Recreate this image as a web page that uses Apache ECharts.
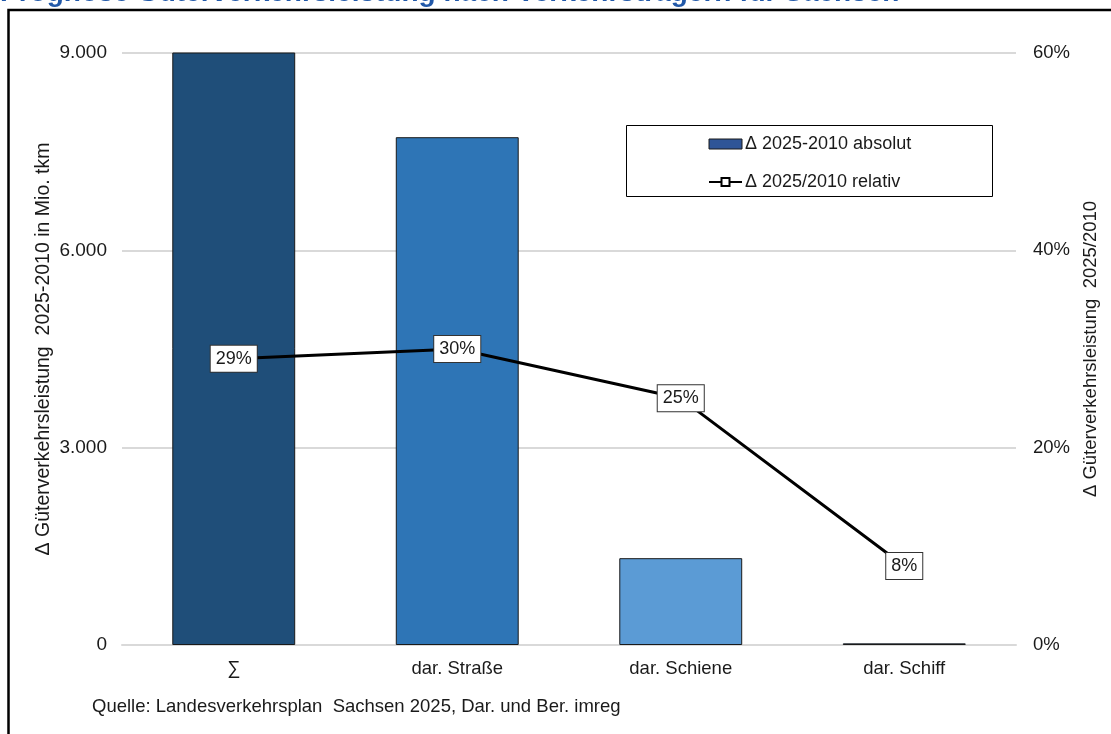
<!DOCTYPE html>
<html>
<head>
<meta charset="utf-8">
<script src="https://cdn.jsdelivr.net/npm/echarts@6/dist/echarts.min.js"></script>
<style>
  html, body { margin: 0; padding: 0; background: #fff; }
  #chart { width: 1111px; height: 734px; }
</style>
</head>
<body>
<div id="chart"></div>
<script>
// Güterverkehr Sachsen: absolute change (bars, left axis) and relative change (line, right axis)
const categories = ['∑', 'dar. Straße', 'dar. Schiene', 'dar. Schiff'];
const absoluteChange = [9070, 7720, 1320, 25];      // Mio. tkm, 2025-2010
const relativeChange = [29, 30, 25, 8];             // %, 2025/2010
const leftTicks = [0, 3000, 6000, 9000];
const rightTicks = [0, 20, 40, 60];
const barColors = ['#1F4E79', '#2E75B6', '#5B9BD5', '#5B9BD5'];

const FONT = 'Liberation Sans, Arial, sans-serif';
const TEXT = '#1a1a1a';
const chart = echarts.init(document.getElementById('chart'), null, { renderer: 'canvas' });

const fmtThousands = v => String(v).replace(/\B(?=(\d{3})+(?!\d))/g, '.');

chart.setOption({
  animation: false,
  backgroundColor: '#fff',
  textStyle: { fontFamily: FONT },
  grid: { left: 122, right: 95, top: 53, bottom: 89, containLabel: false },
  graphic: [
    {
      type: 'rect', z: 0,
      shape: { x: 8.5, y: 10, width: 1120, height: 740 },
      style: { fill: 'none', stroke: '#000', lineWidth: 2.5 }
    },
    {
      type: 'text', z: 10,
      x: 0, y: -21,
      style: {
        text: 'Prognose Güterverkehrsleistung nach Verkehrsträgern für Sachsen',
        font: 'bold 28px ' + FONT, fill: '#2158A8'
      }
    },
    {
      type: 'rect', z: 5,
      shape: { x: 626.5, y: 125.5, width: 366, height: 71 },
      style: { fill: '#fff', stroke: '#000', lineWidth: 1 }
    },
    {
      type: 'text', z: 10,
      x: 92, y: 707,
      style: {
        text: 'Quelle: Landesverkehrsplan  Sachsen 2025, Dar. und Ber. imreg',
        font: '18.5px ' + FONT, fill: TEXT, verticalAlign: 'middle'
      }
    }
  ],
  legend: {
    orient: 'vertical',
    left: 703, top: 130,
    itemWidth: 33, itemHeight: 10, itemGap: 20,
    z: 20,
    textStyle: { fontSize: 18, lineHeight: 18, color: TEXT, fontFamily: FONT, padding: [0, 0, 0, -2] },
    data: [
      { name: 'Δ 2025-2010 absolut', icon: 'rect', itemStyle: { color: '#2F5597', borderColor: '#1a1a1a', borderWidth: 1 } },
      { name: 'Δ 2025/2010 relativ' }
    ]
  },
  xAxis: {
    type: 'category',
    data: categories,
    axisLine: { show: true, lineStyle: { color: '#D9D9D9', width: 2 } },
    axisTick: { show: false },
    axisLabel: { fontSize: 18.5, color: TEXT, margin: 14, fontFamily: FONT }
  },
  yAxis: [
    {
      type: 'value',
      min: leftTicks[0], max: leftTicks[leftTicks.length - 1], interval: 3000,
      name: 'Δ Güterverkehrsleistung  2025-2010 in Mio. tkm',
      nameLocation: 'middle', nameGap: 68, nameRotate: 90, nameMoveOverlap: false,
      nameTextStyle: { fontSize: 19.5, color: TEXT, fontFamily: FONT },
      axisLine: { show: false }, axisTick: { show: false },
      axisLabel: { fontSize: 19, color: TEXT, margin: 15, formatter: fmtThousands, fontFamily: FONT },
      splitLine: { show: true, lineStyle: { color: '#D9D9D9', width: 2 } }
    },
    {
      type: 'value',
      min: rightTicks[0], max: rightTicks[rightTicks.length - 1], interval: 20,
      name: 'Δ Güterverkehrsleistung  2025/2010',
      nameLocation: 'middle', nameGap: 65, nameRotate: 90, nameMoveOverlap: false,
      nameTextStyle: { fontSize: 18.5, color: TEXT, fontFamily: FONT },
      axisLine: { show: false }, axisTick: { show: false },
      axisLabel: { fontSize: 18.5, color: TEXT, margin: 17, formatter: '{value}%', fontFamily: FONT },
      splitLine: { show: false }
    }
  ],
  series: [
    {
      name: 'Δ 2025-2010 absolut',
      type: 'bar',
      yAxisIndex: 0,
      barCategoryGap: '45%',
      itemStyle: { color: '#2F5597', borderColor: '#1a1a1a', borderWidth: 1 },
      data: absoluteChange.map((v, i) => ({ value: v, itemStyle: { color: barColors[i] } })),
      z: 2
    },
    {
      name: 'Δ 2025/2010 relativ',
      type: 'line',
      yAxisIndex: 1,
      data: relativeChange,
      symbol: 'rect', symbolSize: 10,
      itemStyle: { color: '#fff', borderColor: '#000', borderWidth: 1.5 },
      lineStyle: { color: '#000', width: 3 },
      label: {
        show: true,
        position: 'inside',
        formatter: '{c}%',
        fontSize: 18, lineHeight: 18, color: TEXT, fontFamily: FONT,
        backgroundColor: '#fff', borderColor: '#333', borderWidth: 1,
        padding: [4, 5, 4, 5]
      },
      z: 5
    }
  ]
});
</script>
</body>
</html>
